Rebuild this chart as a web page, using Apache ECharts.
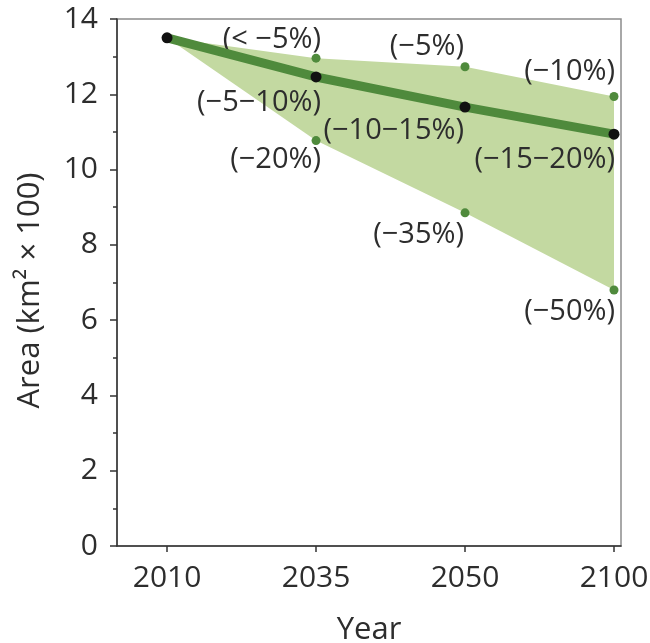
<!DOCTYPE html>
<html>
<head>
<meta charset="utf-8">
<style>
  html, body { margin: 0; padding: 0; background: #fff; }
  #chart { width: 650px; height: 643px; }
</style>
<script src="https://cdn.jsdelivr.net/npm/echarts@6/dist/echarts.min.js"></script>
</head>
<body>
<div id="chart"></div>
<script>
// Projected area scenarios by year
const years = ['2010', '2035', '2050', '2100'];
const centralArea = [13.50, 12.46, 11.66, 10.94];
const upperArea = [13.50, 12.96, 12.73, 11.94];
const lowerArea = [13.50, 10.77, 8.85, 6.80];
const centralLabels = ['', '(−5−10%)', '(−10−15%)', '(−15−20%)'];
const upperLabels = ['', '(< −5%)', '(−5%)', '(−10%)'];
const lowerLabels = ['', '(−20%)', '(−35%)', '(−50%)'];
const yTicks = [0, 2, 4, 6, 8, 10, 12, 14];

const FONT = '"Open Sans", "Noto Sans", sans-serif';
const TEXT = '#2d2d2d';
const GREEN = '#4f8a3c';
const BAND = '#c3d9a1';

// label offsets (pixels from each point) for every scenario row
const upperOffsets = [null, [5, -18], [-1, -20], [1, -25]];
const centralOffsets = [null, [5, 26], [-1, 24], [1, 26]];
const lowerOffsets = [null, [5, 19], [-1, 22], [1, 22]];

function pointsWithLabels(values, labels, offsets, skipFirst) {
  const out = [];
  values.forEach((v, i) => {
    if (skipFirst && i === 0) return;
    const item = { value: [i, v] };
    if (labels[i]) {
      item.label = {
        show: true,
        formatter: labels[i],
        position: ['50%', '50%'],
        align: 'right',
        verticalAlign: 'middle',
        offset: offsets[i],
        color: TEXT,
        opacity: 1,
        fontFamily: FONT,
        fontSize: 29
      };
    } else {
      item.label = { show: false };
    }
    out.push(item);
  });
  return out;
}

const xIdx = years.map((_, i) => i);

const chart = echarts.init(document.getElementById('chart'), null, { renderer: 'canvas' });

chart.setOption({
  animation: false,
  backgroundColor: '#fff',
  grid: {
    left: 117, right: 29, top: 19, bottom: 97,
    outerBoundsMode: 'none',
    containLabel: false,
    show: true, borderColor: '#8c8c8c', borderWidth: 1.5, backgroundColor: 'transparent'
  },
  xAxis: {
    type: 'value',
    min: -0.336,
    max: 3.047,
    name: 'Year',
    nameLocation: 'middle',
    nameGap: 69,
    nameTextStyle: { color: TEXT, fontFamily: FONT, fontSize: 31 },
    axisLine: { show: true, onZero: false, lineStyle: { color: '#333', width: 1.5 } },
    axisTick: { show: true, length: 6, customValues: xIdx, lineStyle: { color: '#333', width: 1.5 } },
    axisLabel: {
      customValues: xIdx,
      formatter: v => years[Math.round(v)],
      margin: 17,
      color: TEXT, fontFamily: FONT, fontSize: 30
    },
    splitLine: { show: false }
  },
  yAxis: {
    type: 'value',
    min: 0,
    max: 14,
    interval: 2,
    name: 'Area (km² × 100)',
    nameLocation: 'middle',
    nameGap: 71,
    nameRotate: 90,
    nameTextStyle: { color: TEXT, fontFamily: FONT, fontSize: 31, padding: [0, 16, 0, 0] },
    axisLine: { show: true, onZero: false, lineStyle: { color: '#333', width: 1.5 } },
    axisTick: { show: true, length: 7, lineStyle: { color: '#333', width: 1.5 } },
    minorTick: { show: true, splitNumber: 2, length: 4, lineStyle: { color: '#333', width: 1.5 } },
    axisLabel: {
      formatter: v => (yTicks.indexOf(v) >= 0 ? String(v) : ''),
      margin: 19,
      color: TEXT, fontFamily: FONT, fontSize: 30
    },
    splitLine: { show: false }
  },
  series: [
    {
      // shaded range between the low and high scenarios
      type: 'custom',
      silent: true,
      z: 1,
      data: [0],
      renderItem: function (params, api) {
        const pts = [];
        upperArea.forEach((v, i) => pts.push(api.coord([i, v])));
        for (let i = lowerArea.length - 1; i >= 0; i--) pts.push(api.coord([i, lowerArea[i]]));
        return {
          type: 'polygon',
          shape: { points: pts },
          style: { fill: BAND }
        };
      }
    },
    {
      // central scenario line
      type: 'line',
      z: 3,
      data: centralArea.map((v, i) => [i, v]),
      lineStyle: { color: GREEN, width: 9 },
      showSymbol: false,
      symbol: 'none'
    },
    {
      // central scenario points with labels
      type: 'scatter',
      z: 4,
      data: pointsWithLabels(centralArea, centralLabels, centralOffsets, false),
      symbol: 'circle',
      symbolSize: 11,
      itemStyle: { color: '#111', opacity: 1 }
    },
    {
      type: 'scatter',
      z: 2,
      data: pointsWithLabels(upperArea, upperLabels, upperOffsets, true),
      symbol: 'circle',
      symbolSize: 9,
      itemStyle: { color: GREEN, opacity: 1 }
    },
    {
      type: 'scatter',
      z: 2,
      data: pointsWithLabels(lowerArea, lowerLabels, lowerOffsets, true),
      symbol: 'circle',
      symbolSize: 9,
      itemStyle: { color: GREEN, opacity: 1 }
    }
  ]
});
</script>
</body>
</html>
